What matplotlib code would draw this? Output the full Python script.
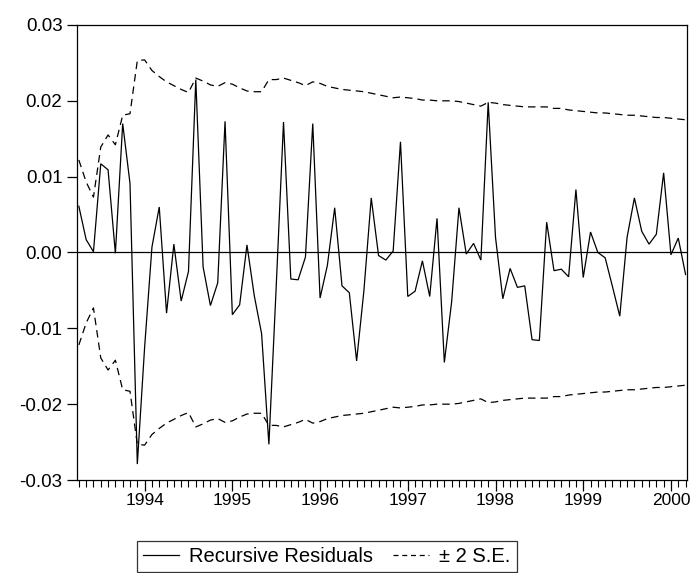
import matplotlib
matplotlib.use("Agg")
import matplotlib.pyplot as plt
from matplotlib.lines import Line2D
import numpy as np

# Monthly observations 1993M04 .. 2000M03
start_year, start_month = 1993, 4
years = [1994, 1995, 1996, 1997, 1998, 1999, 2000]

resid = [0.0061, 0.0017, 0.0001, 0.0117, 0.0109, -0.0001, 0.0170, 0.0091, -0.0279, -0.0125,
         0.0007, 0.0060, -0.0080, 0.0011, -0.0064, -0.0025, 0.0228, -0.0019, -0.0070, -0.0040,
         0.0173, -0.0082, -0.0069, 0.0010, -0.0057, -0.0107, -0.0253, -0.0045, 0.0172, -0.0035,
         -0.0036, -0.0006, 0.0170, -0.0060, -0.0017, 0.0059, -0.0044, -0.0053, -0.0143, -0.0050,
         0.0072, -0.0004, -0.0010, 0.0002, 0.0146, -0.0058, -0.0051, -0.0011, -0.0058, 0.0045,
         -0.0145, -0.0065, 0.0059, -0.0002, 0.0012, -0.0010, 0.0198, 0.0020, -0.0061, -0.0021,
         -0.0046, -0.0044, -0.0115, -0.0116, 0.0040, -0.0024, -0.0022, -0.0032, 0.0083, -0.0033,
         0.0027, 0.0000, -0.0007, -0.0045, -0.0084, 0.0020, 0.0072, 0.0028, 0.0011, 0.0024,
         0.0105, -0.0003, 0.0019, -0.0029]

se2 = [0.0122, 0.0093, 0.0073, 0.0139, 0.0155, 0.0142, 0.0181, 0.0183, 0.0253, 0.0254,
       0.0240, 0.0232, 0.0225, 0.0220, 0.0215, 0.0211, 0.0230, 0.0226, 0.0221, 0.0219,
       0.0224, 0.0222, 0.0217, 0.0213, 0.0212, 0.0212, 0.0228, 0.0228, 0.0230, 0.0227,
       0.0224, 0.0220, 0.0225, 0.0223, 0.0219, 0.0217, 0.0215, 0.0214, 0.0213, 0.0212,
       0.0210, 0.0208, 0.0206, 0.0204, 0.0205, 0.0204, 0.0203, 0.0201, 0.0201, 0.0200,
       0.0200, 0.0200, 0.0199, 0.0197, 0.0195, 0.0193, 0.0198, 0.0197, 0.0195, 0.0194,
       0.0193, 0.0192, 0.0192, 0.0192, 0.0192, 0.0190, 0.0190, 0.0188, 0.0187, 0.0186,
       0.0185, 0.0184, 0.0184, 0.0183, 0.0182, 0.0181, 0.0181, 0.0180, 0.0179, 0.0178,
       0.0178, 0.0177, 0.0176, 0.0175]

yticks = [-0.03, -0.02, -0.01, 0.00, 0.01, 0.02, 0.03]
ytick_labels = ["-0.03", "-0.02", "-0.01", "0.00", "0.01", "0.02", "0.03"]

plt.rcParams['font.family'] = ['Liberation Sans', 'DejaVu Sans']

n = len(resid)
x = np.arange(n)
resid = np.array(resid)
se2 = np.array(se2)

fig = plt.figure(figsize=(6.9, 5.73), dpi=100)
ax = fig.add_axes([0.1116, 0.1623, 0.8841, 0.7941])

ax.axhline(0, color='black', lw=0.9, zorder=1)
ax.plot(x, resid, color='black', lw=0.9, solid_joinstyle='miter', zorder=3)
ax.plot(x, se2, color='black', lw=0.9, dashes=(6, 4), zorder=2)
ax.plot(x, -se2, color='black', lw=0.9, dashes=(6, 4), zorder=2)

ax.set_xlim(-0.25, n - 1 + 0.2)
ax.set_ylim(-0.03, 0.03)

# x ticks: every month minor, January major with year label
major_pos = [(y - start_year) * 12 + (1 - start_month) for y in years]
ax.set_xticks(major_pos)
ax.set_xticklabels([str(y) for y in years])
ax.set_xticks(x, minor=True)
ax.tick_params(axis='x', which='major', direction='out', length=8, width=0.9, pad=1, labelsize=12.5)
ax.tick_params(axis='x', which='minor', direction='out', length=5, width=0.8)

ax.set_yticks(yticks)
ax.set_yticklabels(ytick_labels)
ax.tick_params(axis='y', which='major', direction='out', length=7.5, width=0.9, pad=3, labelsize=13.5)

for s in ax.spines.values():
    s.set_linewidth(0.9)
    s.set_color('black')

handles = [Line2D([0], [0], color='black', lw=0.9),
           Line2D([0], [0], color='black', lw=0.9, dashes=(4, 3))]
leg = fig.legend(handles, ["Recursive Residuals", "\u00b1 2 S.E."], ncol=2,
                 loc='center', bbox_to_anchor=(0.4735, 0.029), frameon=True,
                 fancybox=False, edgecolor='black', fontsize=14.5,
                 handlelength=1.8, handletextpad=0.5, columnspacing=1.0,
                 borderpad=0.3, borderaxespad=0.0)
leg.get_frame().set_linewidth(0.9)

fig.savefig("out.png", dpi=100)
